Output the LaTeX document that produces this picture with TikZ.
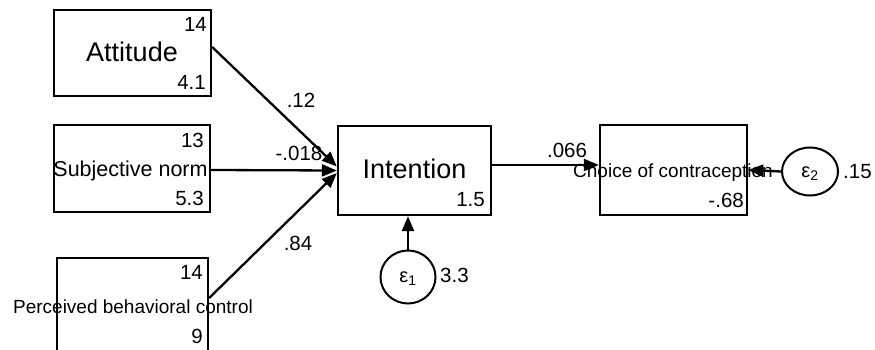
\documentclass[tikz,border=0pt]{standalone}
\usepackage{fontspec}
\setmainfont{Liberation Sans}
\usetikzlibrary{arrows.meta,calc,shapes.geometric}
\begin{document}
\begin{tikzpicture}[x=1pt,y=-1pt,
  varbox/.style={draw, line width=2.3pt, rectangle, inner sep=0pt},
  errnode/.style={draw, line width=2pt, ellipse, inner sep=0pt},
  num/.style={font=\fontsize{20.5}{22}\selectfont, inner sep=0pt},
  bigname/.style={font=\fontsize{27}{30}\selectfont, inner sep=0pt, anchor=base},
  midname/.style={font=\fontsize{21.5}{24}\selectfont, inner sep=0pt, anchor=base},
  smallname/.style={font=\fontsize{19}{21}\selectfont, inner sep=0pt, anchor=base},
  pathline/.style={line width=2.3pt, -{Triangle[length=15pt,width=12pt]}},
]
\clip (0,0) rectangle (875,350);
\fill[white] (0,0) rectangle (875,350);

% observed variables
\node[varbox, minimum width=157pt, minimum height=86pt] (att) at (132.5,53) {};
\node[varbox, minimum width=156pt, minimum height=87pt] (sn)  at (132,168.5) {};
\node[varbox, minimum width=151pt, minimum height=100pt] (pbc) at (132.5,308) {};
\node[varbox, minimum width=153pt, minimum height=89pt] (int) at (414.5,170.5) {};
\node[varbox, minimum width=147pt, minimum height=90pt] (cho) at (673.5,170) {};

% error terms
\node[errnode, minimum width=55pt, minimum height=53pt] (e1) at (408,277) {};
\node[errnode, minimum width=56pt, minimum height=48pt] (e2) at (810,171.5) {};

% variable names
\node[bigname]   (attname) at (132,61.5) {Attitude};
\node[midname]   (snname)  at (130.5,176) {Subjective norm};
\node[smallname] (pbcname) at (133,313) {Perceived behavioral control};
\node[bigname]   (intname) at (414.5,178) {Intention};
\node[smallname] (choname) at (673,177) {Choice of contraception};
\node[font=\fontsize{20}{22}\selectfont, inner sep=0pt] (e1name) at (408,279) {ε\textsubscript{1}};
\node[font=\fontsize{20}{22}\selectfont, inner sep=0pt] (e2name) at (810,174) {ε\textsubscript{2}};

% means and intercepts
\node[num, anchor=east] (attmean) at (207,24) {14};
\node[num, anchor=east] (attvar)  at (206,82) {4.1};
\node[num, anchor=east] (snmean)  at (204,140) {13};
\node[num, anchor=east] (snvar)   at (204,198) {5.3};
\node[num, anchor=east] (pbcmean) at (203,272) {14};
\node[num, anchor=east] (pbcvar)  at (203,336) {9};
\node[num, anchor=east] (intcons) at (485,200) {1.5};
\node[num, anchor=east] (chocons) at (744,200) {-.68};
\node[num, anchor=west] (e1var)   at (440,275) {3.3};
\node[num, anchor=west] (e2var)   at (843,172) {.15};

% path coefficients
\draw[pathline] ($(att.east)+(0,-6)$) -- ($(int.west)+(0,-4)$);
\draw[pathline] ($(sn.east)+(0,1.5)$) -- (int.west);
\draw[pathline] ($(pbc.east)+(0,-10)$) -- ($(int.west)+(0,2.5)$);
\draw[pathline] ($(int.east)+(0,-5.5)$) -- ($(cho.west)+(0,-5)$);
\draw[pathline] (e1.north) -- (e1.north |- int.south);
\draw[pathline] (e2.west) -- (cho.east);

\node[num] (p1) at (301,100) {.12};
\node[num] (p2) at (299,153) {-.018};
\node[num] (p3) at (298,243) {.84};
\node[num] (p4) at (567,150) {.066};
\end{tikzpicture}
\end{document}
